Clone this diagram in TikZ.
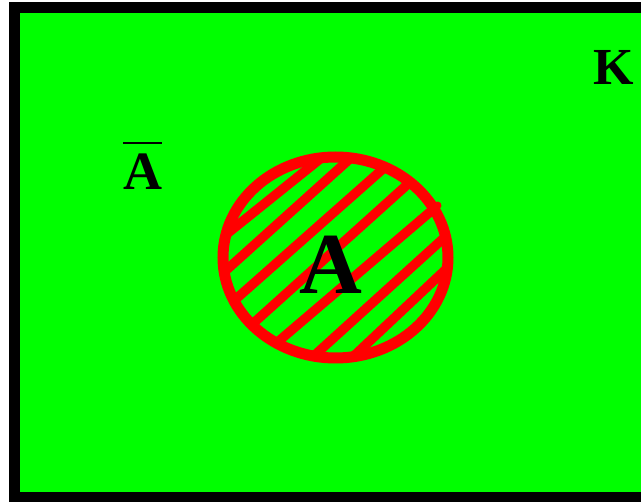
\documentclass[tikz,border=0pt]{standalone}
\usepackage{fontspec}
\setmainfont{Liberation Serif}
\usetikzlibrary{calc}
\begin{document}
\begin{tikzpicture}[x=1pt,y=-1pt,
  lbl/.style={inner sep=0pt,font=\bfseries\fontsize{#1}{#1}\selectfont},
  hatchline/.style={draw=red,line width=9.5pt}]
\useasboundingbox (0,0) rectangle (641,502);
\clip (0,0) rectangle (641,502);
% universe
\draw[fill={rgb,255:red,0;green,255;blue,0},line width=11pt] (14.5,8) rectangle (670,498);
% set A
\coordinate (set) at (335.5,257.5);
\begin{scope}
  \clip (set) ellipse [x radius=112.5, y radius=100.5];
  \foreach \ax/\ay/\bx/\by in {231.7/230/316.7/161.7, 228.3/268.3/346.7/161.7,
      236.7/298.3/381.7/170, 255/321.7/405/186.7, 280/340/438.3/205,
      316.7/353.3/441.7/240, 356.7/353.3/441.7/273.3}{
    \draw[hatchline] ($(\ax,\ay)!-0.3!(\bx,\by)$) -- ($(\ax,\ay)!1.3!(\bx,\by)$);
  }
\end{scope}
\draw[red,line width=11pt] (set) ellipse [x radius=112.5, y radius=100.5];
\draw[hatchline,line cap=round,line width=8pt] (420,220) -- (437.5,205.5);
% labels
\node[lbl=52] (K) at (613.5,67.5) {K};
\node[lbl=54] (Abar) at (142.5,172) {A};
\draw[line width=2pt] (Abar.north west |- 0,143) coordinate (b1) -- (b1 -| Abar.north east);
\node[lbl=87] (A) at (330.5,264.5) {A};
\end{tikzpicture}
\end{document}
